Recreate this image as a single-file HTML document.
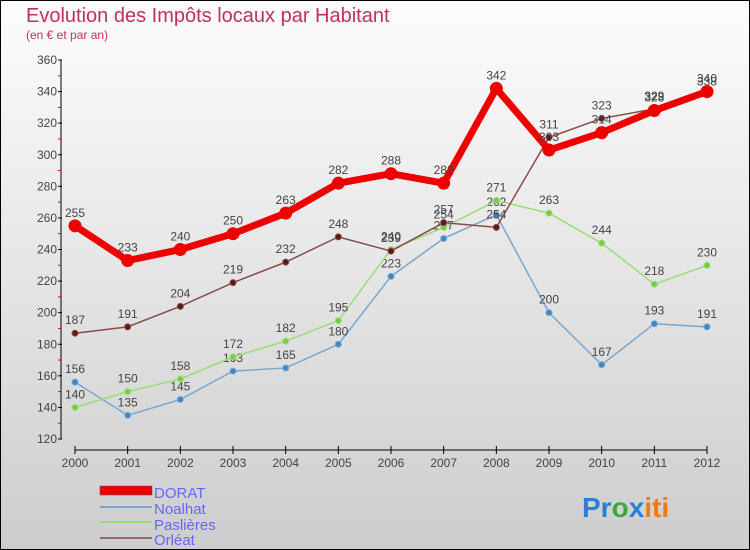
<!DOCTYPE html>
<html><head><meta charset="utf-8">
<style>
body{margin:0}
#wrap{width:750px;height:550px;position:relative;overflow:hidden;font-family:"Liberation Sans",sans-serif}
</style></head>
<body>
<div id="wrap">
<svg id="svg" width="750" height="550" xmlns="http://www.w3.org/2000/svg">
<defs><linearGradient id="bg" x1="0" y1="0" x2="0" y2="1"><stop offset="0" stop-color="#fdfdfd"/><stop offset="1" stop-color="#cdcdcd"/></linearGradient></defs>
<rect x="0.5" y="0.5" width="749" height="549" fill="url(#bg)" stroke="#000"/>
<text x="26" y="22" font-size="20" fill="#c0305a">Evolution des Impôts locaux par Habitant</text>
<text x="26" y="39" font-size="12" fill="#c0305a">(en € et par an)</text>
<g id="axes"></g><g id="series"></g>
<g>
<rect x="100" y="486" width="52" height="9" fill="#e00" stroke="#555" stroke-width="0.5"/>
<text x="154" y="498" font-size="15" fill="#6666ff">DORAT</text>
<line x1="100" y1="507" x2="152" y2="507" stroke="#7aa7d0" stroke-width="2"/>
<text x="154" y="514" font-size="15" fill="#6666ff">Noalhat</text>
<line x1="100" y1="522" x2="152" y2="522" stroke="#99dd77" stroke-width="2"/>
<text x="154" y="530" font-size="15" fill="#6666ff">Paslières</text>
<line x1="100" y1="538" x2="152" y2="538" stroke="#996666" stroke-width="2"/>
<text x="154" y="545" font-size="15" fill="#6666ff">Orléat</text>
</g>
<text x="582" y="517" font-size="28" font-weight="bold"><tspan fill="#2a7fd4">Pr</tspan><tspan fill="#3aa83a">o</tspan><tspan fill="#2a7fd4">x</tspan><tspan fill="#f07a10">iti</tspan></text>
</svg>
</div>
<script>
const years=["2000","2001","2002","2003","2004","2005","2006","2007","2008","2009","2010","2011","2012"];
const yTicks=[120,140,160,180,200,220,240,260,280,300,320,340,360];
const dorat=[255,233,240,250,263,282,288,282,342,303,314,328,340];
const noalhat=[156,135,145,163,165,180,223,247,262,200,167,193,191];
const paslieres=[140,150,158,172,182,195,240,254,271,263,244,218,230];
const orleat=[187,191,204,219,232,248,239,257,254,311,323,329,338];
const NS="http://www.w3.org/2000/svg";
function X(i){return 75+i*(707-75)/(years.length-1);}
function Y(v){return 439-(v-120)*(379/240);}
function mk(tag,attrs,parent){const e=document.createElementNS(NS,tag);for(const k in attrs)e.setAttribute(k,attrs[k]);parent.appendChild(e);return e;}
const ax=document.getElementById('axes');
let l=mk('line',{x1:61,y1:Y(360),x2:61,y2:Y(120),stroke:'#000'},ax);


yTicks.forEach((t,i)=>{
 let tk=mk('line',{x1:58,y1:Y(t),x2:62,y2:Y(t),stroke:'#000'},ax);
 
 
 let tx=mk('text',{x:57,y:Y(t)+4,'font-size':12,'text-anchor':'end',fill:'#444'},ax);tx.textContent=t;
 
 
 if(i<yTicks.length-1){let m=mk('line',{x1:58,y1:Y(t+10),x2:61,y2:Y(t+10),stroke:'#f00'},ax);
 
 }
});
l=mk('line',{x1:75,y1:450,x2:707,y2:450,stroke:'#000'},ax);


years.forEach((y,i)=>{
 let tk=mk('line',{x1:X(i),y1:446,x2:X(i),y2:454,stroke:'#000'},ax);
 
 
 let tx=mk('text',{x:X(i),y:467,'font-size':12,'text-anchor':'middle',fill:'#444'},ax);tx.textContent=y;
 
 
});
const sg=document.getElementById('series');
function draw(name,data,color,w,r,dot){
 const g=mk('g',{},sg);
 
 
 const p=mk('polyline',{points:data.map((v,i)=>X(i)+','+Y(v)).join(' '),fill:'none',stroke:color,'stroke-width':w},g);
 
 
 data.forEach((v,i)=>{
  const c=mk('circle',{cx:X(i),cy:Y(v),r:r,fill:dot,stroke:color,'stroke-width':1},g);
  
  
  const t=mk('text',{x:X(i),y:Y(v)-9,'font-size':12,'text-anchor':'middle',fill:'#444'},g);t.textContent=v;
  
  
 });
}
draw('noalhat',noalhat,'#7aa7d0',1.5,3,'#3b88c8');
draw('paslieres',paslieres,'#99dd77',1.5,3,'#77cc44');
draw('orleat',orleat,'#8a4a4a',1.5,3,'#5a1a1a');
draw('dorat',dorat,'#ee0000',7,6,'#ee0000');
</script>
</body></html>
